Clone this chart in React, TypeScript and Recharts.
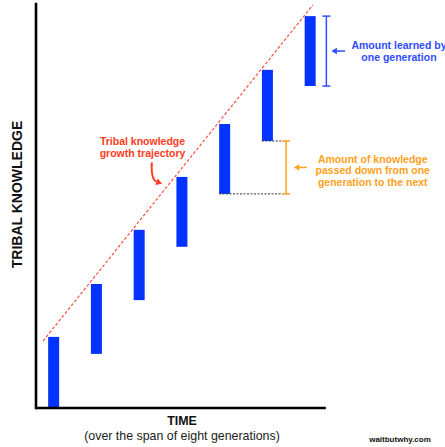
import React from 'react';
import { ComposedChart, Bar, XAxis, YAxis, ReferenceLine, ReferenceDot, Label } from 'recharts';

// ---- data ----
const generations = [1, 2, 3, 4, 5, 6, 7];
const knowledgeStart = [0, 13.4, 26.7, 39.9, 53.0, 66.1, 79.7];
const knowledgeEnd = [17.6, 30.7, 44.1, 57.2, 70.3, 83.7, 97.0];
const trajectoryGen = [0.755, 7.07];
const trajectoryKnowledge = [16.6, 99.8];

// ---- texts ----
const yAxisTitle = 'TRIBAL KNOWLEDGE';
const xAxisTitle = 'TIME';
const xAxisSubtitle = '(over the span of eight generations)';
const trajectoryLabel = ['Tribal knowledge', 'growth trajectory'];
const learnedLabel = ['Amount learned by', 'one generation'];
const passedLabel = ['Amount of knowledge', 'passed down from one', 'generation to the next'];
const credit = 'waitbutwhy.com';

const X_DOMAIN: [number, number] = [0.59, 10.04];
const Y_DOMAIN: [number, number] = [0, 100];
const AXIS_END = 7.37;
const FONT = "'Liberation Sans', Arial, Helvetica, sans-serif";

const BLUE = '#0433ff';
const BLUE_ANN = '#2f4dff';
const RED = '#ff3b21';
const RED_LINE = '#ff5040';
const ORANGE = '#ffa11c';

const rows = generations.map((g, i) => ({ gen: g, range: [knowledgeStart[i], knowledgeEnd[i]] }));

const arrowShape = (color: string, width = 1.5) => (p: any) => {
  const { x1, y1, x2, y2 } = p;
  const ang = Math.atan2(y2 - y1, x2 - x1);
  const len = 5.5;
  const hw = 3.2;
  const bx = x2 - len * Math.cos(ang);
  const by = y2 - len * Math.sin(ang);
  const nx = -Math.sin(ang);
  const ny = Math.cos(ang);
  return (
    <g>
      <line x1={x1} y1={y1} x2={bx} y2={by} stroke={color} strokeWidth={width} />
      <polygon
        points={`${x2},${y2} ${bx + nx * hw},${by + ny * hw} ${bx - nx * hw},${by - ny * hw}`}
        fill={color}
      />
    </g>
  );
};

const curvedArrowShape = (color: string) => (p: any) => {
  const { x1, y1, x2, y2 } = p;
  const cx = x1 - 0.1 * (x2 - x1);
  const cy = y1 + 0.8 * (y2 - y1);
  const ang = Math.atan2(y2 - cy, x2 - cx);
  const len = 6;
  const hw = 3.5;
  const bx = x2 - len * Math.cos(ang);
  const by = y2 - len * Math.sin(ang);
  const nx = -Math.sin(ang);
  const ny = Math.cos(ang);
  return (
    <g>
      <path d={`M${x1},${y1} Q${cx},${cy} ${bx},${by}`} stroke={color} strokeWidth={2} fill="none" />
      <polygon
        points={`${x2},${y2} ${bx + nx * hw},${by + ny * hw} ${bx - nx * hw},${by - ny * hw}`}
        fill={color}
      />
    </g>
  );
};

const bracketShape = (color: string) => (p: any) => {
  const { x1, y1, x2, y2 } = p;
  const cap = 4;
  return (
    <g stroke={color} strokeWidth={1.5}>
      <line x1={x1} y1={y1} x2={x2} y2={y2} />
      <line x1={x1 - cap} y1={y1} x2={x1 + cap} y2={y1} />
      <line x1={x2 - cap} y1={y2} x2={x2 + cap} y2={y2} />
    </g>
  );
};

const textBlock = (lines: string[], color: string, size = 10.5, spacing = 11.8) => (p: any) => {
  const { cx, cy } = p;
  const n = lines.length;
  return (
    <text fill={color} fontFamily={FONT} fontWeight="bold" fontSize={size} textAnchor="middle">
      {lines.map((l, i) => (
        <tspan key={i} x={cx} y={cy + (i - (n - 1) / 2) * spacing + size * 0.36}>
          {l}
        </tspan>
      ))}
    </text>
  );
};

const renderYLabel = (p: any) => {
  const vb = p.viewBox;
  const x = vb.x + 17;
  const y = vb.y + vb.height / 2 - 11.5;
  return (
    <text
      x={x}
      y={y}
      transform={`rotate(-90, ${x}, ${y})`}
      textAnchor="middle"
      dominantBaseline="central"
      fontFamily={FONT}
      fontWeight="bold"
      fontSize={14}
      fill="#111"
    >
      {yAxisTitle}
    </text>
  );
};

const renderXLabel = (p: any) => {
  const vb = p.viewBox;
  const cx = vb.x + 146;
  return (
    <g fontFamily={FONT}>
      <text x={cx} y={vb.y + 16.5} textAnchor="middle" fontWeight="bold" fontSize={12.4} fill="#111">
        {xAxisTitle}
      </text>
      <text x={cx} y={vb.y + 32} textAnchor="middle" fontSize={12.4} fill="#222">
        {xAxisSubtitle}
      </text>
      <text x={vb.x + 364} y={vb.y + 34} textAnchor="middle" fontWeight="bold" fontSize={8} fill="#111">
        {credit}
      </text>
    </g>
  );
};

export default function App() {
  const iLearn = 6;
  const learnLo = knowledgeStart[iLearn];
  const learnHi = knowledgeEnd[iLearn];
  const learnMid = (learnLo + learnHi) / 2;
  const gLearn = generations[iLearn];

  const iFrom = 4;
  const iTo = 5;
  const passLo = knowledgeStart[iFrom];
  const passHi = knowledgeStart[iTo];
  const passMid = (passLo + passHi) / 2;
  const gTo = generations[iTo];
  const gFrom = generations[iFrom];
  const halfBar = 0.129;

  return (
    <div style={{ position: 'absolute', left: 0, top: 0, background: '#fff' }}>
      <ComposedChart
        width={445}
        height={447}
        data={rows}
        margin={{ top: 4, right: 5, bottom: 0, left: 0 }}
      >
        <XAxis
          type="number"
          dataKey="gen"
          domain={X_DOMAIN}
          allowDataOverflow
          height={39}
          axisLine={false}
          tick={false}
          tickLine={false}
        >
          <Label content={renderXLabel} />
        </XAxis>
        <YAxis
          type="number"
          domain={Y_DOMAIN}
          allowDataOverflow
          width={36}
          tick={false}
          tickLine={false}
          axisLine={{ stroke: '#000', strokeWidth: 2.6, strokeLinecap: 'square' }}
        >
          <Label content={renderYLabel} />
        </YAxis>

        <ReferenceLine
          segment={[
            { x: X_DOMAIN[0], y: 0 },
            { x: AXIS_END, y: 0 },
          ]}
          stroke="#000"
          strokeWidth={2.6}
          ifOverflow="visible"
        />

        <ReferenceLine
          segment={[
            { x: trajectoryGen[0], y: trajectoryKnowledge[0] },
            { x: trajectoryGen[1], y: trajectoryKnowledge[1] },
          ]}
          stroke={RED_LINE}
          strokeWidth={1.2}
          strokeDasharray="3 2"
          ifOverflow="visible"
        />

        <Bar dataKey="range" barSize={11} fill={BLUE} isAnimationActive={false} />

        {/* passed-down dashed guides */}
        <ReferenceLine
          segment={[
            { x: gFrom - halfBar, y: passLo },
            { x: gTo + 0.36, y: passLo },
          ]}
          stroke="#333"
          strokeWidth={1}
          strokeDasharray="2 1.5"
          ifOverflow="visible"
        />
        <ReferenceLine
          segment={[
            { x: gTo - halfBar, y: passHi },
            { x: gTo + 0.36, y: passHi },
          ]}
          stroke="#333"
          strokeWidth={1}
          strokeDasharray="2 1.5"
          ifOverflow="visible"
        />
        <ReferenceLine
          segment={[
            { x: gTo + 0.439, y: passHi },
            { x: gTo + 0.439, y: passLo },
          ]}
          shape={bracketShape(ORANGE)}
          ifOverflow="visible"
        />
        <ReferenceLine
          segment={[
            { x: gTo + 0.93, y: passMid },
            { x: gTo + 0.62, y: passMid },
          ]}
          shape={arrowShape(ORANGE)}
          ifOverflow="visible"
        />
        <ReferenceDot x={gTo + 2.467} y={passMid - 0.8} r={0} shape={textBlock(passedLabel, ORANGE, 10.5, 11.4)} ifOverflow="visible" />

        {/* learned-by-one-generation bracket */}
        <ReferenceLine
          segment={[
            { x: gLearn + 0.382, y: learnHi },
            { x: gLearn + 0.382, y: learnLo },
          ]}
          shape={bracketShape(BLUE_ANN)}
          ifOverflow="visible"
        />
        <ReferenceLine
          segment={[
            { x: gLearn + 0.82, y: learnMid },
            { x: gLearn + 0.5, y: learnMid },
          ]}
          shape={arrowShape(BLUE_ANN)}
          ifOverflow="visible"
        />
        <ReferenceDot x={gLearn + 2.08} y={learnMid} r={0} shape={textBlock(learnedLabel, BLUE_ANN, 10.5, 12.2)} ifOverflow="visible" />

        {/* trajectory annotation */}
        <ReferenceDot x={3.082} y={64.6} r={0} shape={textBlock(trajectoryLabel, RED, 10.5, 11.7)} ifOverflow="visible" />
        <ReferenceLine
          segment={[
            { x: 3.3, y: 60.8 },
            { x: 3.54, y: 55.5 },
          ]}
          shape={curvedArrowShape(RED)}
          ifOverflow="visible"
        />
      </ComposedChart>
    </div>
  );
}
